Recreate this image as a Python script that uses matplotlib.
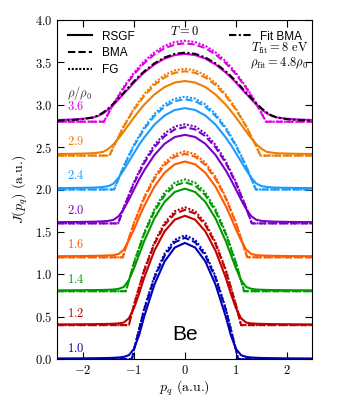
import numpy as np
import matplotlib
matplotlib.use("Agg")
import matplotlib.pyplot as plt
from matplotlib.lines import Line2D

plt.rcParams['mathtext.fontset'] = 'cm'
plt.rcParams['font.family'] = 'serif'
plt.rcParams['font.serif'] = ['cmr10', 'DejaVu Serif']
plt.rcParams['axes.formatter.use_mathtext'] = True

# densities rho/rho0 and vertical shift of each profile
dens = ['1.0', '1.2', '1.4', '1.6', '2.0', '2.4', '2.9', '3.6']
shift = [0.0, 0.4, 0.8, 1.2, 1.6, 2.0, 2.4, 2.8]
colors = ['#0000b4', '#c00000', '#009a00', '#ff5a00', '#7a00c8', '#1a9cff', '#f07d00', '#e000e8']

# half profiles (symmetric in p_q)
p_rsgf = [0, 0.2, 0.4, 0.6, 0.8, 0.9, 1.0, 1.1, 1.2, 1.3, 1.4, 1.5, 1.6, 1.7, 1.8, 2.0, 2.2, 2.5]
rsgf = [
    [1.37, 1.315, 1.151, 0.877, 0.50, 0.28, 0.12, 0.045, 0.025, 0.018, 0.014, 0.012, 0.011, 0.010, 0.009, 0.008, 0.007, 0.006],
    [1.29, 1.244, 1.106, 0.877, 0.56, 0.37, 0.20, 0.08, 0.03, 0.02, 0.016, 0.014, 0.013, 0.012, 0.011, 0.010, 0.009, 0.008],
    [1.21, 1.171, 1.054, 0.859, 0.59, 0.43, 0.27, 0.13, 0.05, 0.028, 0.02, 0.017, 0.015, 0.014, 0.013, 0.012, 0.011, 0.010],
    [1.13, 1.097, 0.998, 0.833, 0.605, 0.472, 0.33, 0.20, 0.09, 0.04, 0.025, 0.022, 0.02, 0.018, 0.017, 0.015, 0.014, 0.013],
    [1.045, 1.019, 0.939, 0.807, 0.625, 0.518, 0.40, 0.28, 0.17, 0.085, 0.042, 0.03, 0.025, 0.022, 0.02, 0.018, 0.016, 0.015],
    [0.96, 0.938, 0.873, 0.765, 0.613, 0.527, 0.43, 0.33, 0.23, 0.14, 0.07, 0.04, 0.03, 0.025, 0.022, 0.02, 0.018, 0.016],
    [0.88, 0.862, 0.809, 0.721, 0.601, 0.528, 0.45, 0.367, 0.284, 0.204, 0.134, 0.08, 0.045, 0.035, 0.028, 0.024, 0.021, 0.019],
    [0.80, 0.786, 0.744, 0.675, 0.580, 0.523, 0.461, 0.394, 0.33, 0.265, 0.20, 0.145, 0.10, 0.068, 0.05, 0.035, 0.027, 0.02],
]
fit_bma = [0.815, 0.80, 0.758, 0.688, 0.594, 0.538, 0.476, 0.41, 0.342, 0.278, 0.215, 0.158, 0.11, 0.074, 0.05, 0.03, 0.02, 0.012]

# FG and BMA: values inside the Fermi edge, zero outside
p_in = [0, 0.2, 0.4, 0.6, 0.8, 1.0, 1.2, 1.4]
p_edge = [1.04, 1.10, 1.16, 1.22, 1.31, 1.39, 1.48, 1.59]
fg = [
    [1.46, 1.406, 1.244, 0.974, 0.596, 0.110],
    [1.39, 1.344, 1.206, 0.976, 0.655, 0.241],
    [1.32, 1.281, 1.163, 0.967, 0.692, 0.339],
    [1.25, 1.216, 1.116, 0.948, 0.712, 0.410, 0.041],
    [1.17, 1.143, 1.061, 0.925, 0.734, 0.488, 0.188],
    [1.095, 1.072, 1.004, 0.891, 0.733, 0.528, 0.279],
    [1.025, 1.006, 0.950, 0.857, 0.725, 0.557, 0.351, 0.108],
    [0.955, 0.940, 0.895, 0.819, 0.713, 0.577, 0.411, 0.215],
]
bma = [
    [1.43, 1.377, 1.218, 0.954, 0.584, 0.108],
    [1.36, 1.315, 1.180, 0.955, 0.641, 0.236],
    [1.285, 1.247, 1.132, 0.941, 0.674, 0.330],
    [1.22, 1.187, 1.089, 0.925, 0.695, 0.400, 0.040],
    [1.135, 1.109, 1.029, 0.897, 0.712, 0.473, 0.182],
    [1.065, 1.043, 0.977, 0.867, 0.713, 0.514, 0.271],
    [0.995, 0.977, 0.922, 0.832, 0.704, 0.541, 0.341, 0.105],
    [0.925, 0.910, 0.867, 0.793, 0.691, 0.559, 0.398, 0.208],
]


def mirror(x, y):
    x = np.asarray(x, float)
    y = np.asarray(y, float)
    return np.concatenate([-x[::-1], x[1:]]), np.concatenate([y[::-1], y[1:]])


def edge_curve(vals, pe):
    x = list(p_in[:len(vals)]) + [pe, 2.5]
    y = list(vals) + [0.0, 0.0]
    return mirror(x, y)


fig = plt.figure(figsize=(3.4, 4.0), dpi=100)
ax = fig.add_axes([0.169, 0.1025, 0.75, 0.8475])

lw = 1.5
ls_bma = (0, (3.5, 1.5))
ls_fg = (0, (1, 0.8))
ls_fit = (0, (3.5, 1.2, 1, 1.2))
for i in range(len(dens)):
    c = colors[i]
    x, y = mirror(p_rsgf, rsgf[i])
    ax.plot(x, y + shift[i], color=c, lw=lw, ls='-')
    x, y = edge_curve(bma[i], p_edge[i])
    ax.plot(x, y + shift[i], color=c, lw=lw, ls=ls_bma)
    x, y = edge_curve(fg[i], p_edge[i])
    ax.plot(x, y + shift[i], color=c, lw=lw, ls=ls_fg)
    ax.text(-2.31, shift[i] + 0.125 + 0.007 * i, '$' + dens[i] + '$', color=c,
            fontsize=9, ha='left', va='center')

x, y = mirror(p_rsgf, fit_bma)
ax.plot(x, y + shift[-1], color='black', lw=lw, ls=ls_fit)

ax.text(-2.31, 3.14, r'$\rho/\rho_0$', fontsize=9, ha='left', va='center', color='#333333')
ax.text(0, 3.86, r'$T=0$', fontsize=9, ha='center', va='center')
ax.text(2.42, 3.66, r'$T_{\rm fit}=8\ {\rm eV}$', fontsize=9, ha='right', va='center')
ax.text(2.42, 3.49, r'$\rho_{\rm fit}=4.8\rho_0$', fontsize=9, ha='right', va='center')
ax.text(0, 0.29, 'Be', fontsize=15, ha='center', va='center', family='Liberation Sans')

sans = {'family': 'Liberation Sans', 'size': 8.5}
h1 = [Line2D([], [], color='black', lw=lw, ls='-'),
      Line2D([], [], color='black', lw=lw, ls=ls_bma),
      Line2D([], [], color='black', lw=lw, ls=ls_fg)]
leg1 = ax.legend(h1, ['RSGF', 'BMA', 'FG'], loc='upper left', frameon=False, prop=sans,
                 handlelength=2.0, handletextpad=0.9, labelspacing=0.4,
                 borderaxespad=0.5)
ax.add_artist(leg1)
h2 = [Line2D([], [], color='black', lw=lw, ls=ls_fit)]
ax.legend(h2, ['Fit BMA'], loc='upper right', frameon=False, prop=sans,
          handlelength=2.0, handletextpad=0.6, borderaxespad=0.5)

ax.set_xlim(-2.5, 2.5)
ax.set_ylim(0, 4.0)
ax.set_xticks([-2, -1, 0, 1, 2])
ax.set_xticklabels(['$-2$', '$-1$', '$0$', '$1$', '$2$'])
yt = [0.0, 0.5, 1.0, 1.5, 2.0, 2.5, 3.0, 3.5, 4.0]
ax.set_yticks(yt)
ax.set_yticklabels(['$%.1f$' % v for v in yt])
ax.tick_params(direction='in', top=True, right=True, labelsize=9, length=5, width=0.8)
ax.set_xlabel(r'$p_q$ (a.u.)', fontsize=10, labelpad=1)
ax.set_ylabel(r'$J(p_q)$ (a.u.)', fontsize=10, labelpad=4)

fig.savefig('out.png', dpi=100)
